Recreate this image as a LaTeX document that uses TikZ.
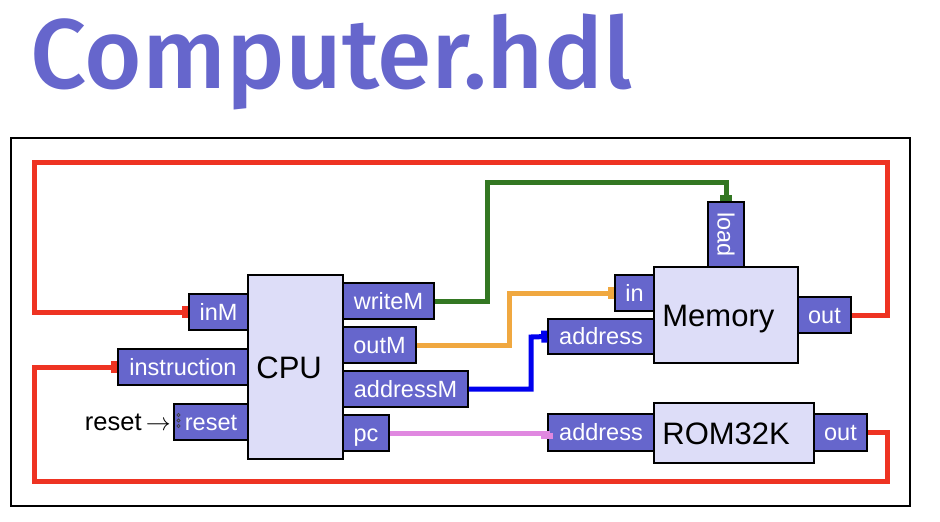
\documentclass[tikz,border=0pt]{standalone}
\usepackage{fontspec}
\setmainfont{Liberation Sans}
\IfFontExistsTF{Fira Sans Medium}
  {\newfontfamily\titlefont{Fira Sans Medium}}
  {\newfontfamily\titlefont{Fira Sans}[FakeBold=1.5]}
\usetikzlibrary{arrows.meta}
\definecolor{portblue}{HTML}{6666CC}
\definecolor{chipfill}{HTML}{DDDDF8}
\definecolor{wred}{HTML}{EE3322}
\definecolor{wgreen}{HTML}{337722}
\definecolor{worange}{HTML}{F0A840}
\definecolor{wblue}{HTML}{0000EE}
\definecolor{wpink}{HTML}{E088E0}
\tikzset{
  portbase/.style={draw=black, line width=1.6pt, fill=portblue, text=white, inner sep=0pt,
    font=\fontsize{23.5}{23.5}\selectfont},
  port/.style={portbase, text height=20pt, text depth=4pt},
  chip/.style={draw=black, line width=1.6pt, fill=chipfill, inner sep=0pt},
  chiplabel/.style={inner sep=0pt, font=\fontsize{31}{31}\selectfont, text height=27pt, text depth=5pt, anchor=west},
  wire/.style={line width=5pt, -{Rectangle[length=6pt,width=12pt]}},
}
\begin{document}
\begin{tikzpicture}[x=1pt,y=-1pt]
\useasboundingbox (0,0) rectangle (940,522);
% title
\node[anchor=base west, inner sep=0pt, text=portblue] (title) at (30,88)
  {\resizebox{602pt}{!}{\titlefont Computer.hdl}};
% frame
\draw[line width=1.2pt] (11,138) rectangle (910,506);

% CPU
\node[chip, minimum width=95pt, minimum height=184pt] (cpu) at (295.5,367) {};
\node[chiplabel] (cpulbl) at ([xshift=9pt]cpu.west) {CPU};
\node[port, minimum width=59pt, minimum height=36pt] (inM) at (218.5,312) {inM};
\node[port, minimum width=130pt, minimum height=36pt] (instr) at (183,367) {instruction};
\node[port, minimum width=74pt, minimum height=36pt] (reset) at (211,422) {reset};
\node[port, minimum width=91pt, minimum height=36pt] (writeM) at (388.5,301) {writeM};
\node[port, minimum width=73pt, minimum height=36pt] (outM) at (379.5,345) {outM};
\node[port, minimum width=125pt, minimum height=36pt] (addressM) at (405.5,389) {addressM};
\node[port, minimum width=46pt, minimum height=36pt] (pc) at (366,433) {pc};
\foreach \yy in {415,420.5,426}
  \draw[gray!50!black, line width=0.7pt] (178.5,\yy) circle (1.7pt);
\node[inner sep=0pt, anchor=east, font=\fontsize{25.5}{25.5}\selectfont] (resetlbl) at (171,422) {reset\,$\rightarrow$};

% Memory
\node[chip, minimum width=144pt, minimum height=96pt] (mem) at (726,315) {};
\node[chiplabel] (memlbl) at ([xshift=9pt]mem.west) {Memory};
\node[portbase, minimum width=36pt, minimum height=65pt] (load) at (726,234.5) {\rotatebox{-90}{load}};
\node[port, minimum width=39pt, minimum height=36pt] (memin) at (634.5,293) {in};
\node[port, minimum width=106pt, minimum height=35pt] (memaddr) at (601,336.5) {address};
\node[port, minimum width=53pt, minimum height=36pt] (memout) at (824.5,315) {out};

% ROM
\node[chip, minimum width=160pt, minimum height=60pt] (rom) at (734,433) {};
\node[chiplabel] (romlbl) at ([xshift=9pt]rom.west) {ROM32K};
\node[port, minimum width=106pt, minimum height=37pt] (romaddr) at (601,432.5) {address};
\node[port, minimum width=53pt, minimum height=37pt] (romout) at (840.5,432.5) {out};

% wires
\draw[wire, wred] (memout.east) -- (887,315) -- (887,162) -- (34,162) -- (34,312) -- (inM.west);
\draw[wire, wred] (romout.east) -- (887,432.5) -- (887,481) -- (34,481) -- (34,367) -- (instr.west);
\draw[wire, wgreen] (writeM.east) -- (487,301) -- (487,182) -- (726,182) -- (load.north);
\draw[wire, worange] (outM.east) -- (509,345) -- (509,293) -- (memin.west);
\draw[wire, wblue] (addressM.east) -- (531,389) -- (531,337) -- (memaddr.west);
\draw[wire, wpink] (pc.east) -- (romaddr.west |- pc.east) -- (romaddr.west);
\end{tikzpicture}
\end{document}
